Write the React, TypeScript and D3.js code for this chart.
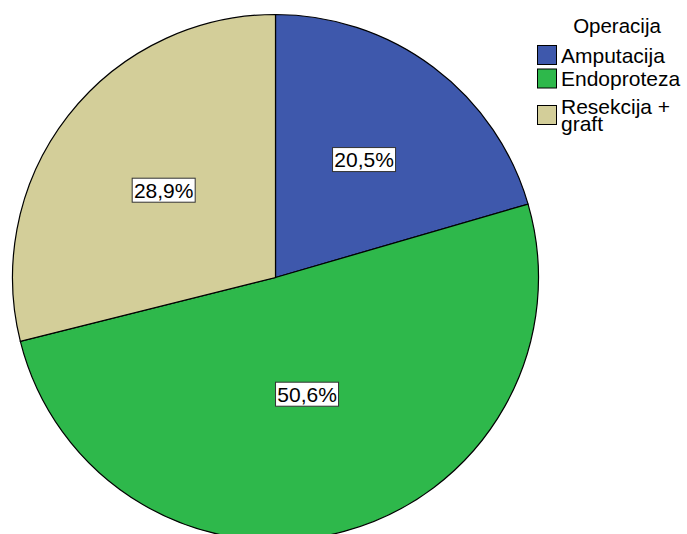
import React from "react";
import * as d3 from "d3";

const categories = ["Amputacija", "Endoproteza", "Resekcija + graft"];
const legendLines = [["Amputacija"], ["Endoproteza"], ["Resekcija +", "graft"]];
const values = [20.5, 50.6, 28.9];
const colors = ["#3E58AC", "#2EB84B", "#D3CE99"];
const legendTitle = "Operacija";

const W = 687;
const H = 534;
const FONT = "'Liberation Sans', Arial, sans-serif";

export default function App() {
  const cx = 275.5;
  const cy = 277.5;
  const r = 263;
  const pie = d3.pie<number>().sort(null).value((d) => d)(values);
  const arc = d3.arc<d3.PieArcDatum<number>>().innerRadius(0).outerRadius(r);
  const fmt = (v: number) => v.toFixed(1).replace(".", ",") + "%";
  const swY = [45.5, 69, 105.5];
  const sw = 19;
  const lineH = 16.5;
  const fs = 21;

  return (
    <svg
      width={W}
      height={H}
      style={{ position: "absolute", left: 0, top: 0, background: "#fff" }}
      fontFamily={FONT}
    >
      <g transform={`translate(${cx},${cy})`}>
        {pie.map((p, i) => (
          <path key={i} d={arc(p) || ""} fill={colors[i]} stroke="#000" strokeWidth={1.2} />
        ))}
        {pie.map((p, i) => {
          const a = (p.startAngle + p.endAngle) / 2;
          const half = (p.endAngle - p.startAngle) / 2;
          const centroidDist = (2 * r * Math.sin(half)) / (3 * half);
          const labelR = 0.5 * centroidDist + 0.25 * r;
          const x = Math.sin(a) * labelR;
          const y = -Math.cos(a) * labelR;
          const w = 63;
          const h = 24;
          return (
            <g key={"l" + i} transform={`translate(${x},${y})`}>
              <rect x={-w / 2} y={-h / 2} width={w} height={h} fill="#fff" stroke="#333" strokeWidth={1} />
              <text textAnchor="middle" dy="0.36em" fontSize={fs} fill="#000">
                {fmt(values[i])}
              </text>
            </g>
          );
        })}
      </g>
      <text x={617} y={33} textAnchor="middle" fontSize={20.5} fill="#000">
        {legendTitle}
      </text>
      {categories.map((c, i) => {
        const lines = legendLines[i];
        const mid = swY[i] + sw / 2;
        const firstBase = mid + 7.5 - ((lines.length - 1) * lineH) / 2;
        return (
          <g key={"lg" + i}>
            <rect x={537.5} y={swY[i]} width={sw} height={sw} fill={colors[i]} stroke="#000" strokeWidth={1} />
            {lines.map((ln, j) => (
              <text key={j} x={561} y={firstBase + j * lineH} fontSize={fs} fill="#000">
                {ln}
              </text>
            ))}
          </g>
        );
      })}
    </svg>
  );
}
